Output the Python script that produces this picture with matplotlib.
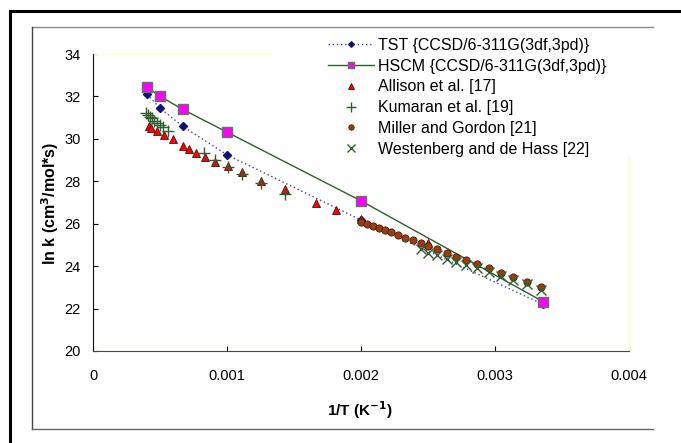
import matplotlib.pyplot as plt
from matplotlib.lines import Line2D

plt.rcParams["font.family"] = ["Liberation Sans", "DejaVu Sans"]

# TST and HSCM calculations (CCSD/6-311G(3df,3pd))
tst_x = [0.0004, 0.0005, 0.000667, 0.001, 0.002, 0.003356]
tst_y = [32.10, 31.44, 30.59, 29.24, 26.17, 22.20]

hscm_x = [0.0004, 0.0005, 0.000667, 0.001, 0.002, 0.003356]
hscm_y = [32.43, 32.00, 31.39, 30.31, 27.07, 22.33]

# experimental data
allison_x = [0.000418, 0.00043, 0.000475, 0.000528, 0.000592, 0.000669, 0.000712,
             0.000769, 0.000834, 0.000911, 0.001003, 0.001112, 0.001251, 0.001428,
             0.001664, 0.001811, 0.001998, 0.0025]
allison_y = [30.60, 30.49, 30.38, 30.18, 29.97, 29.66, 29.53, 29.34, 29.16, 28.92,
             28.72, 28.42, 28.02, 27.62, 27.00, 26.64, 26.23, 25.10]

kumaran_x = [0.000391, 0.000406, 0.000421, 0.000436, 0.000453, 0.000473, 0.000498,
             0.000522, 0.00056, 0.000826, 0.000908, 0.001003, 0.001112, 0.001251,
             0.001428]
kumaran_y = [31.20, 31.12, 31.04, 30.97, 30.86, 30.76, 30.65, 30.54, 30.38, 29.32,
             29.00, 28.68, 28.34, 27.93, 27.40]

miller_x = [0.001997, 0.002042, 0.002085, 0.002133, 0.002178, 0.002224, 0.002276,
            0.002328, 0.002383, 0.002445, 0.0025, 0.002567, 0.002637, 0.002709,
            0.002781, 0.002866, 0.002951, 0.00304, 0.00313, 0.003237, 0.003341]
miller_y = [26.09, 25.98, 25.89, 25.81, 25.70, 25.62, 25.46, 25.35, 25.23, 25.07,
            24.94, 24.79, 24.63, 24.44, 24.28, 24.09, 23.92, 23.70, 23.48, 23.25,
            23.02]

west_x = [0.002445, 0.0025, 0.002567, 0.002637, 0.002709, 0.002781, 0.002866,
          0.002951, 0.00304, 0.00313, 0.003237, 0.003341]
west_y = [24.79, 24.64, 24.52, 24.36, 24.20, 24.05, 23.89, 23.73, 23.53, 23.34,
          23.14, 22.87]

W, H = 681, 443
fig = plt.figure(figsize=(W / 100, H / 100), dpi=100)
ax = fig.add_axes([93.3 / W, 1 - 351 / H, (629.3 - 93.3) / W, (351 - 54) / H])

green = "#2f5f2f"
ax.plot(tst_x, tst_y, linestyle=(0, (1, 2)), color="#3a3ac8", lw=1.0,
        marker="D", ms=3.8, mfc="#10107a", mec="#10107a",
        label="TST {CCSD/6-311G(3df,3pd)}")
ax.plot(hscm_x, hscm_y, color=green, lw=1.0, marker="s", ms=6.5,
        mfc="#ff00ff", mec="#5a7a5a", mew=1.0,
        label="HSCM {CCSD/6-311G(3df,3pd)}")
ax.plot(allison_x, allison_y, linestyle="none", marker="^", ms=6,
        mfc="#ff0000", mec="#501010", mew=0.6, label="Allison et al. [17]")
ax.plot(kumaran_x, kumaran_y, linestyle="none", marker="+", ms=9,
        mec=green, mew=1.0, label="Kumaran et al. [19]")
ax.plot(miller_x, miller_y, linestyle="none", marker="o", ms=5.2,
        mfc="#a03c0c", mec="#402010", mew=0.6, label="Miller and Gordon [21]")
ax.plot(west_x, west_y, linestyle="none", marker="x", ms=7,
        mec=green, mew=1.0, label="Westenberg and de Hass [22]")

ax.set_xlim(0, 0.004)
ax.set_ylim(20, 34)
ax.set_xticks([0, 0.001, 0.002, 0.003, 0.004])
ax.set_xticklabels(["0", "0.001", "0.002", "0.003", "0.004"])
ax.set_yticks(range(20, 35, 2))
ax.tick_params(direction="in", length=3.6, width=0.8, labelsize=10.5)
ax.tick_params(axis="x", pad=13)
ax.tick_params(axis="y", pad=9)

for s in ("top", "right"):
    ax.spines[s].set_visible(False)
ax.spines["left"].set_color("#111111")
ax.spines["bottom"].set_color("#4a4a3a")

# faint plot-area border left visible outside the legend
ax.plot([0, 0.33], [1, 1], transform=ax.transAxes, color="#fdfbd0",
        lw=1.0, clip_on=False)
ax.plot([1, 1], [0, 0.655], transform=ax.transAxes, color="#fdfbd0",
        lw=1.0, clip_on=False)

leg = ax.legend(loc="upper left", bbox_to_anchor=(328 / W, 1 - 38 / H),
                bbox_transform=fig.transFigure, frameon=False, fontsize=11.5,
                handlelength=2.9, handletextpad=0.2, labelspacing=0.36,
                borderpad=0, borderaxespad=0, markerscale=0.75)

fig.text(360 / W, 1 - 410 / H, r"1/T (K$^{\mathbf{-1}}$)", ha="center",
         va="center", fontsize=11, fontweight="bold")
fig.text(50 / W, 1 - 203 / H, r"ln k (cm$^{\mathbf{3}}$/mol*s)", ha="center",
         va="center", rotation=90, fontsize=11.5, fontweight="bold")

# chart frames
fig.add_artist(Line2D([31.7 / W, 653 / W], [1 - 26.7 / H] * 2, color="#8a8a8a", lw=1.0))
fig.add_artist(Line2D([31.7 / W] * 2, [1 - 26.7 / H, 1 - 429 / H], color="#444444", lw=1.0))
fig.add_artist(Line2D([31.7 / W, 653 / W], [1 - 429 / H] * 2, color="#666666", lw=1.0))
fig.add_artist(Line2D([9.5 / W, 1], [1 - 11 / H] * 2, color="black", lw=2.2))
fig.add_artist(Line2D([9.5 / W] * 2, [0, 1 - 11 / H], color="black", lw=2.2))

fig.savefig("out.png", dpi=100)
